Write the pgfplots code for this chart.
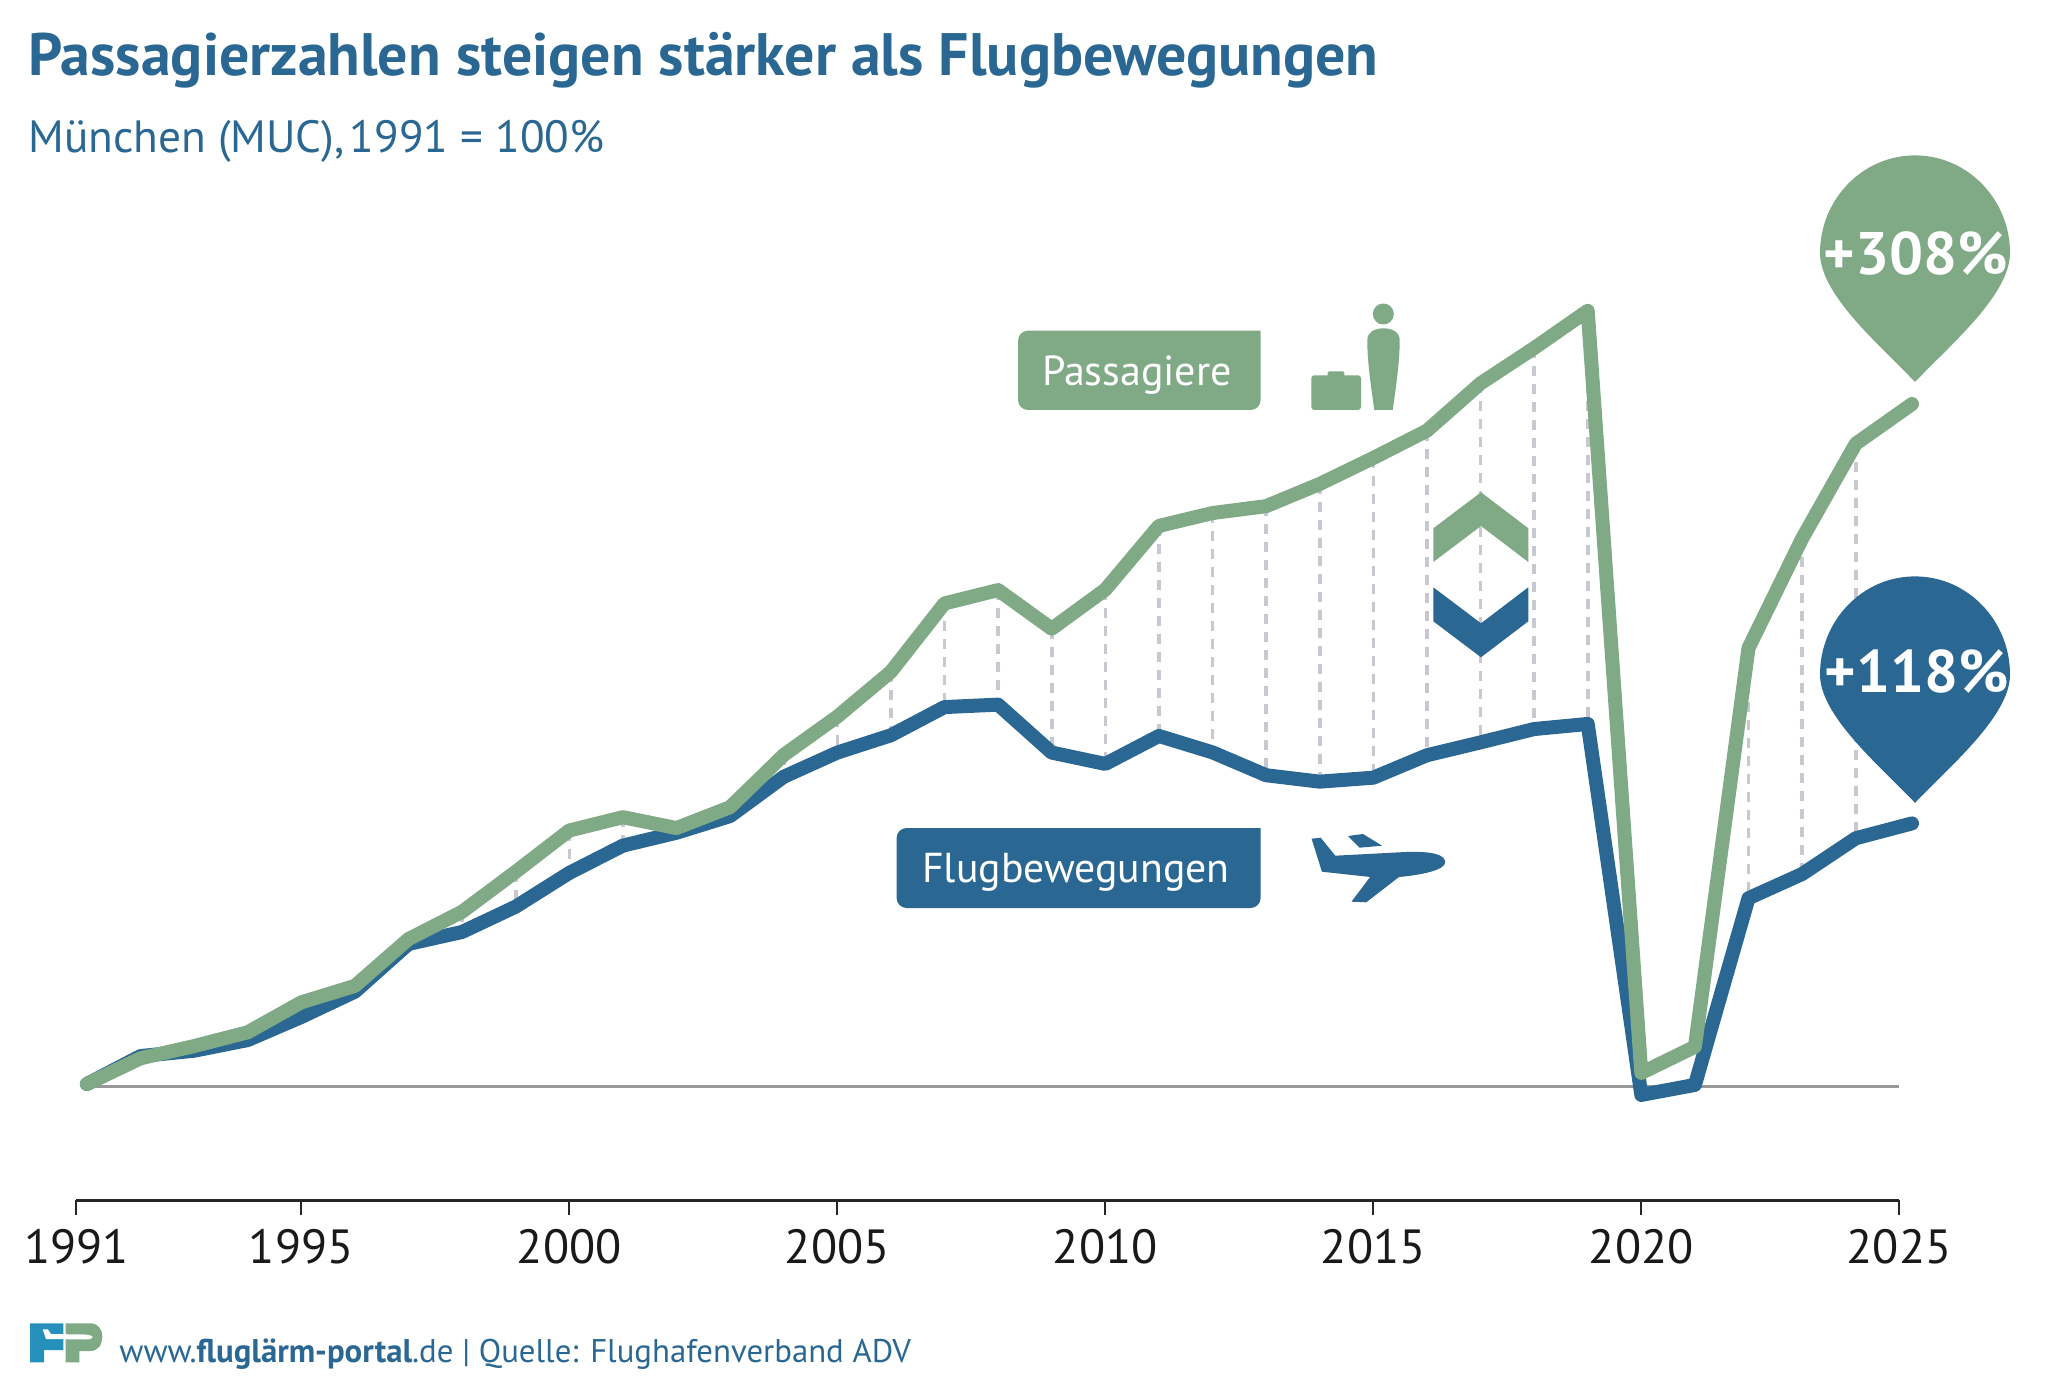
\documentclass[border=0pt]{standalone}
\usepackage{pgfplots}
\pgfplotsset{compat=1.18}
\usepackage{fontspec}
\setmainfont{PT Sans}
\definecolor{fpblue}{HTML}{2A6792}
\definecolor{fpgreen}{HTML}{80A985}
\definecolor{fpdash}{HTML}{C8C8D0}
\definecolor{fplight}{HTML}{2690BC}
\definecolor{fpbase}{HTML}{999999}
\newcommand{\fs}[1]{\fontsize{#1}{#1}\selectfont}
\begin{document}
\begin{tikzpicture}[x=0.5pt,y=-0.5pt]
\path[use as bounding box] (0,0) rectangle (2046,1395);
\begin{axis}[
  at={(38.25pt,-600pt)}, anchor=south west,
  scale only axis, width=911.25pt, height=450pt,
  xmin=1990.806, xmax=2024.808, ymin=48.96, ymax=454.37,
  clip=false,
  axis y line=none, axis x line=bottom,
  x axis line style={-, line width=1.5pt, color=black!85},
  xtick={1990.806,1995,2000,2005,2010,2015,2020,2024.808},
  xticklabels={1991,1995,2000,2005,2010,2015,2020,2025},
  tick align=outside, xtick pos=bottom,
  major tick length=7.5pt,
  x tick style={line width=1pt, color=black!85},
  x tick label style={font=\fs{24}, text=black!90, yshift=-3.5pt},
  /pgf/number format/assume math mode=true,
]
\addplot[color=fpbase, line width=1.5pt, forget plot] coordinates {(1991,100) (2024.808,100)};
\addplot[color=fpdash, line width=1.8pt, dash pattern=on 5pt off 4pt, unbounded coords=jump, forget plot] coordinates {
(1992,112.8)(1992,113.8)(1992,nan)
(1993,118.3)(1993,116.2)(1993,nan)
(1994,124.5)(1994,121.0)(1994,nan)
(1995,138.0)(1995,131.4)(1995,nan)
(1996,145.4)(1996,142.8)(1996,nan)
(1997,166.5)(1997,164.3)(1997,nan)
(1998,178.8)(1998,169.7)(1998,nan)
(1999,196.8)(1999,181.1)(1999,nan)
(2000,215.4)(2000,196.3)(2000,nan)
(2001,221.4)(2001,208.6)(2001,nan)
(2002,216.5)(2002,214.4)(2002,nan)
(2003,225.9)(2003,221.9)(2003,nan)
(2004,249.4)(2004,239.6)(2004,nan)
(2005,266.7)(2005,250.5)(2005,nan)
(2006,286.9)(2006,258.3)(2006,nan)
(2007,317.7)(2007,271.0)(2007,nan)
(2008,323.7)(2008,272.1)(2008,nan)
(2009,306.3)(2009,250.5)(2009,nan)
(2010,323.9)(2010,245.4)(2010,nan)
(2011,352.6)(2011,258.0)(2011,nan)
(2012,358.4)(2012,250.6)(2012,nan)
(2013,361.5)(2013,240.3)(2013,nan)
(2014,371.5)(2014,237.4)(2014,nan)
(2015,383.2)(2015,239.2)(2015,nan)
(2016,395.5)(2016,249.3)(2016,nan)
(2017,416.8)(2017,255.1)(2017,nan)
(2018,432.7)(2018,261.1)(2018,nan)
(2019,449.5)(2019,263.4)(2019,nan)
(2022,297.6)(2022,184.9)(2022,nan)
(2023,346.9)(2023,195.8)(2023,nan)
(2024,389.6)(2024,211.9)
};
\addplot[color=fpblue, line width=7pt, line join=round, line cap=round] coordinates {
(1991,101.2)(1992,113.8)(1993,116.2)(1994,121.0)(1995,131.4)(1996,142.8)(1997,164.3)(1998,169.7)(1999,181.1)
(2000,196.3)(2001,208.6)(2002,214.4)(2003,221.9)(2004,239.6)(2005,250.5)(2006,258.3)(2007,271.0)(2008,272.1)(2009,250.5)
(2010,245.4)(2011,258.0)(2012,250.6)(2013,240.3)(2014,237.4)(2015,239.2)(2016,249.3)(2017,255.1)(2018,261.1)(2019,263.4)
(2020,96.3)(2021,100.8)(2022,184.9)(2023,195.8)(2024,211.9)(2025.05,218.6)
};
\addplot[color=fpgreen, line width=7pt, line join=round, line cap=round] coordinates {
(1991,101.2)(1992,112.8)(1993,118.3)(1994,124.5)(1995,138.0)(1996,145.4)(1997,166.5)(1998,178.8)(1999,196.8)
(2000,215.4)(2001,221.4)(2002,216.5)(2003,225.9)(2004,249.4)(2005,266.7)(2006,286.9)(2007,317.7)(2008,323.7)(2009,306.3)
(2010,323.9)(2011,352.6)(2012,358.4)(2013,361.5)(2014,371.5)(2015,383.2)(2016,395.5)(2017,416.8)(2018,432.7)(2019,449.5)
(2020,106.2)(2021,118.0)(2022,297.6)(2023,346.9)(2024,389.6)(2025.05,407.5)
};
\end{axis}
% title block
\node[anchor=base west, inner sep=0pt, text=fpblue, font=\fs{29.95}\bfseries] at (28,76) {Passagierzahlen steigen stärker als Flugbewegungen};
\node[anchor=base west, inner sep=0pt, text=fpblue, font=\fs{22.6}] at (28,153) {München (MUC),\hspace{0.12em}1991 = 100\%};
% chevrons
\fill[fpgreen] (1433.3,528.3)--(1481,492.3)--(1528.3,528.3)--(1528.3,562)--(1481,526)--(1433.3,562)--cycle;
\fill[fpblue] (1433.3,587.3)--(1481,623.3)--(1528.3,587.3)--(1528.3,621.3)--(1481,657.3)--(1433.3,621.3)--cycle;
% bubbles
\fill[fpgreen] (1915,155.4) .. controls (1968,155.4) and (2010,200) .. (2010,252.8) .. controls (2010,295) and (1950,345) .. (1915,382) .. controls (1880,345) and (1820,295) .. (1820,252.8) .. controls (1820,200) and (1862,155.4) .. (1915,155.4) -- cycle;
\fill[fpblue] (1915,576.4) .. controls (1968,576.4) and (2010,621) .. (2010,674.6) .. controls (2010,716) and (1950,766) .. (1915,802.8) .. controls (1880,766) and (1820,716) .. (1820,674.6) .. controls (1820,621) and (1862,576.4) .. (1915,576.4) -- cycle;
\node[text=white, inner sep=0pt, font=\fs{30}\bfseries] at (1916,254) {+308\%};
\node[text=white, inner sep=0pt, font=\fs{30}\bfseries] at (1917,672) {+118\%};
% label boxes
\fill[fpgreen] (1260.6,330.7) [rounded corners=5pt] -- (1260.6,410) -- (1018,410) -- (1018,330.7) [sharp corners] -- cycle;
\fill[fpblue] (1260.6,828) [rounded corners=5pt] -- (1260.6,908) -- (896.6,908) -- (896.6,828) [sharp corners] -- cycle;
\node[anchor=base, inner sep=0pt, text=white, font=\fs{21}] at (1137,385.5) {Passagiere};
\node[anchor=base, inner sep=0pt, text=white, font=\fs{20.9}] at (1076,882.3) {Flugbewegungen};
% passenger icons
\fill[fpgreen] (1383.3,314) circle[x radius=10.5, y radius=-10.5];
\fill[fpgreen] (1374.3,410) .. controls (1370,380) and (1367.3,360) .. (1367.3,340) .. controls (1367.3,332) and (1375,328.3) .. (1383.3,328.3) .. controls (1392,328.3) and (1399.7,332) .. (1399.7,340) .. controls (1399.7,360) and (1397,380) .. (1392.7,410) -- cycle;
\fill[fpgreen, rounded corners=1.5pt] (1311.3,375.3) rectangle (1361,410);
\fill[fpgreen, rounded corners=1pt] (1327.7,371.3) rectangle (1344.3,378);
% plane icon
\fill[fpblue] (1311.6,838.7)--(1320.7,837.7)--(1335.3,855.7)--(1405.7,852) .. controls (1433.4,851) and (1445.2,855) .. (1445.2,862.3) .. controls (1445.2,870) and (1421.5,875) .. (1399,877) -- (1366.2,902.3)--(1351.5,901.7)--(1370.1,877)--(1321.9,871.7)--cycle;
\fill[fpblue] (1348,836)--(1363,834)--(1382,845.7)--(1359.5,847.7)--cycle;
% logo
\fill[fplight] (30,1323.3) -- (63.3,1323.3) -- (63.3,1350) -- (44,1350) -- (44,1362.3) -- (30,1362.3) -- cycle;
\fill[fpgreen] (65.7,1323.3) -- (90,1323.3) .. controls (98,1323.3) and (102.3,1329) .. (102.3,1336.5) .. controls (102.3,1345) and (98,1351) .. (90,1351) -- (79.3,1351) -- (79.3,1362.3) -- (65.7,1362.3) -- cycle;
\fill[white] (42.7,1329.3) -- (48,1329.5) -- (51,1334) -- (85,1334.5) .. controls (90,1335) and (92.7,1336) .. (92.7,1337) .. controls (92.7,1338.5) and (90,1339.5) .. (85,1339.5) -- (46,1339) -- cycle;
% footer
\node[anchor=base west, inner sep=0pt, text=fpblue, font=\fs{16.4}] at (119,1362) {www.\textbf{fluglärm-portal}.de | Quelle: Flughafenverband ADV};
\end{tikzpicture}
\end{document}
